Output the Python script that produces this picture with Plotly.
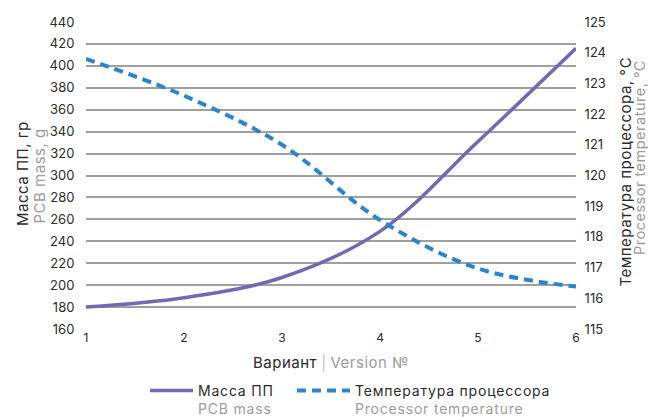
import plotly.graph_objects as go

versions = [1, 2, 3, 4, 5, 6]
pcb_mass = [180, 188.5, 207, 249, 331, 416]
cpu_temp = [123.8, 122.6, 121.0, 118.55, 116.97, 116.38]

mass_ticks = list(range(160, 441, 20))
temp_ticks = list(range(115, 126, 1))

GRAY = "#9c9c9c"
DARK = "#2b2b2b"
FONT = "Inter, Liberation Sans, Arial, sans-serif"

L, R, T, B = 86, 72, 22, 88
W, H = 648, 417
PW, PH = W - L - R, H - T - B


def px_x(px):
    return (px - L) / PW


def px_y(py):
    return (T + PH - py) / PH


def sp(text, color=None, ls=0.5):
    style = f"letter-spacing:{ls}px" + (f";color:{color}" if color else "")
    return f"<span style='{style}'>{text}</span>"


fig = go.Figure()
fig.add_trace(go.Scatter(
    x=versions, y=pcb_mass, mode="lines",
    line=dict(color="#7467b3", width=3.5, shape="spline", smoothing=1.0),
    name=sp("Масса ПП", ls=0.8) + "<br>" + sp("PCB mass", GRAY, ls=0.8),
    yaxis="y", legend="legend"))
fig.add_trace(go.Scatter(
    x=versions, y=cpu_temp, mode="lines",
    line=dict(color="#2a85cc", width=4, dash="9px,6px", shape="spline", smoothing=1.0),
    name=sp("Температура процессора", ls=0.8) + "<br>" + sp("Processor temperature", GRAY, ls=0.8),
    yaxis="y2", legend="legend2"))

title_font = dict(family=FONT, size=15, color=DARK)
sub_font = dict(family=FONT, size=15, color=GRAY)
legend_common = dict(orientation="h", xanchor="left", yanchor="top",
                     valign="top", font=dict(family=FONT, size=14, color=DARK),
                     bgcolor="rgba(0,0,0,0)")

fig.update_layout(
    width=W, height=H,
    margin=dict(l=L, r=R, t=T, b=B, autoexpand=False),
    paper_bgcolor="white", plot_bgcolor="white",
    font=dict(family=FONT, size=12, color=DARK),
    showlegend=True,
    legend=dict(x=px_x(145), y=px_y(375), itemwidth=43, **legend_common),
    legend2=dict(x=px_x(292), y=px_y(375), itemwidth=53, **legend_common),
    xaxis=dict(range=[1, 6], tickvals=versions, showgrid=False, zeroline=False,
               showline=False, ticks="", tickfont=dict(size=12, color=DARK),
               automargin=False,
               title=dict(text=sp("Вариант") + " <span style='color:#c8c8c8'>|</span> " + sp("Version №", GRAY),
                          font=title_font, standoff=13)),
    yaxis=dict(range=[160, 440], tickvals=mass_ticks, showgrid=True,
               gridcolor="#a0a0a0", gridwidth=2, zeroline=False, showline=False,
               ticks="outside", ticklen=8, tickcolor="rgba(0,0,0,0)",
               tickfont=dict(size=13, color=DARK), automargin=False),
    yaxis2=dict(range=[115, 125], tickvals=temp_ticks, overlaying="y", side="right",
                showgrid=False, zeroline=False, showline=False,
                ticks="outside", ticklen=5, tickcolor="rgba(0,0,0,0)",
                tickfont=dict(size=13, color=DARK), automargin=False),
    annotations=[
        dict(text=sp("Масса ПП, гр"), xref="paper", yref="paper", x=px_x(22), y=px_y(174),
             xanchor="center", yanchor="middle", textangle=-90, showarrow=False,
             font=title_font),
        dict(text=sp("PCB mass, g"), xref="paper", yref="paper", x=px_x(38.5), y=px_y(176),
             xanchor="center", yanchor="middle", textangle=-90, showarrow=False,
             font=sub_font),
        dict(text=sp("Температура процессора, °C"), xref="paper", yref="paper",
             x=px_x(624.5), y=px_y(55), xanchor="center", yanchor="top",
             textangle=-90, showarrow=False, font=title_font),
        dict(text=sp("Processor temperature, °C"), xref="paper", yref="paper",
             x=px_x(639.5), y=px_y(58), xanchor="center", yanchor="top",
             textangle=-90, showarrow=False, font=dict(family=FONT, size=14.5, color=GRAY)),
    ],
)

fig.write_html("out.html", config={"displayModeBar": False},
               post_script="document.body.style.margin='0px';")
